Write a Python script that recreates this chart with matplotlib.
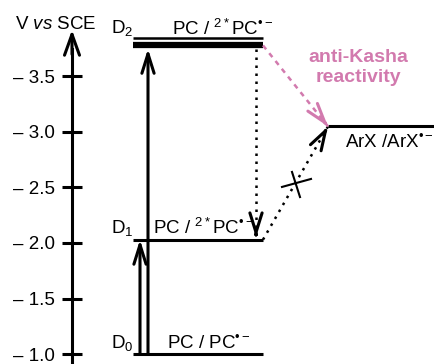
import matplotlib
matplotlib.use("Agg")
import matplotlib.pyplot as plt

plt.rcParams["font.family"] = ["Liberation Sans", "DejaVu Sans"]
plt.rcParams["mathtext.fontset"] = "custom"
plt.rcParams["mathtext.rm"] = "Liberation Sans"
plt.rcParams["mathtext.it"] = "Liberation Sans:italic"
plt.rcParams["mathtext.bf"] = "Liberation Sans:bold"

# potentials (V vs SCE)
tick_values = [-1.0, -1.5, -2.0, -2.5, -3.0, -3.5]
level_names = ["D$_0$", "D$_1$", "D$_2$"]
level_labels = ["PC / PC$^{\u2022\u2212}$",
                "PC / $^{2*}$PC$^{\u2022\u2212}$",
                "PC / $^{2*}$PC$^{\u2022\u2212}$"]
level_values = [-1.0, -2.03, -3.78]
arx_value = -3.05
arx_label = "ArX /ArX$^{\u2022\u2212}$"
pink = "#d27aae"
fs = 13.5

fig = plt.figure(figsize=(4.34, 3.64), dpi=100)
ax = fig.add_axes([0, 0, 1, 1])
ax.set_xlim(0, 434)
ax.set_ylim(-0.91, -4.189)

# axis on the left
for s in ["top", "right", "bottom"]:
    ax.spines[s].set_visible(False)
ax.spines["left"].set_position(("data", 72))
ax.spines["left"].set_linewidth(2.2)
ax.spines["left"].set_bounds(-0.91, -3.75)
ax.set_xticks([])
ax.set_yticks(tick_values)
ax.set_yticklabels(["\u2013 %.1f" % abs(v) for v in tick_values])
ax.tick_params(axis="y", direction="inout", length=15, width=2.2, pad=5,
               labelsize=fs)
ax.annotate("", xy=(72, -3.92), xytext=(72, -3.7),
            arrowprops=dict(arrowstyle="->,head_length=0.75,head_width=0.27",
                            lw=2.2, color="black", shrinkA=0, shrinkB=0,
                            mutation_scale=20))
ax.text(15, -3.93, r"V $\mathit{vs}$ SCE", fontsize=fs, va="baseline")

# energy levels
x0, x1 = 133, 263
ax.plot([x0, x1], [level_values[0]] * 2, color="black", lw=2.2,
        solid_capstyle="butt")
ax.plot([x0, x1], [level_values[1]] * 2, color="black", lw=2.2,
        solid_capstyle="butt")
ax.plot([x0, x1], [level_values[2]] * 2, color="black", lw=4.5,
        solid_capstyle="butt")
ax.plot([x0, x1], [level_values[2] - 0.065] * 2, color="black", lw=1.8,
        solid_capstyle="butt")
ax.plot([328, 434], [arx_value] * 2, color="black", lw=2.2,
        solid_capstyle="butt")

name_base = [level_values[0] - 0.05, level_values[1] - 0.06, -3.89]
label_base = [level_values[0] - 0.05, level_values[1] - 0.055, -3.87]
label_x = [167, 153, 172]
for n, l, yb, lb, lx in zip(level_names, level_labels, name_base, label_base,
                            label_x):
    ax.text(111, yb, n, fontsize=fs, va="baseline")
    ax.text(lx, lb, l, fontsize=fs, va="baseline")
ax.text(345, arx_value + 0.19, arx_label, fontsize=fs, va="baseline")

head = dict(arrowstyle="->,head_length=0.7,head_width=0.22", lw=2.2,
            color="black", shrinkA=0, shrinkB=0, mutation_scale=20)

# excitation arrows
ax.annotate("", xy=(148, level_values[2] + 0.03), xytext=(148, level_values[0]),
            arrowprops=head)
ax.annotate("", xy=(140, level_values[1]), xytext=(140, level_values[0]),
            arrowprops=head)

# dotted relaxation D2 -> D1
ax.plot([256, 256], [level_values[2] + 0.03, level_values[1] - 0.02],
        color="black", lw=1.8, linestyle=(0, (1, 2.2)))
ax.annotate("", xy=(256, level_values[1] - 0.02),
            xytext=(256, level_values[1] - 0.05), arrowprops=head)

# dotted D1 -> ArX (blocked)
ax.plot([263, 328], [level_values[1], arx_value], color="black", lw=1.8,
        linestyle=(0, (1, 2.2)))
dx, dy = 328 - 263, arx_value - level_values[1]
ax.annotate("", xy=(328, arx_value),
            xytext=(328 - dx * 0.05, arx_value - dy * 0.05), arrowprops=head)
ax.plot([282, 311], [-2.505, -2.577], color="black", lw=1.5)
ax.plot([292, 300], [-2.64, -2.414], color="black", lw=1.5)

# anti-Kasha pathway
ax.plot([263, 328], [level_values[2], arx_value], color=pink, lw=1.8,
        linestyle=(0, (2, 2)))
dx, dy = 328 - 263, arx_value - level_values[2]
pk = dict(head, color=pink)
ax.annotate("", xy=(328, arx_value),
            xytext=(328 - dx * 0.05, arx_value - dy * 0.05), arrowprops=pk)
ax.text(358, -3.58, "anti-Kasha\nreactivity", color=pink, fontsize=14,
        fontweight="bold", ha="center", va="center", linespacing=1.2)

fig.savefig("out.png", dpi=100)
